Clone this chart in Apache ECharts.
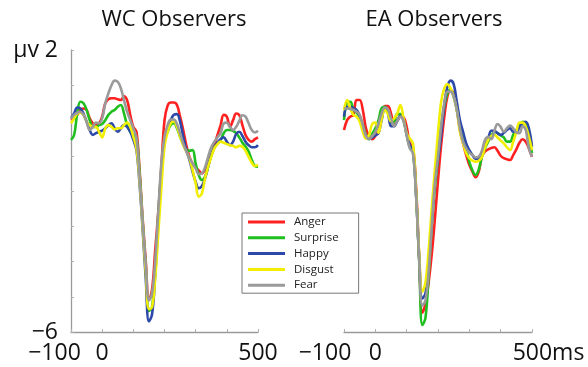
<!DOCTYPE html>
<html>
<head>
<meta charset="utf-8">
<script src="https://cdn.jsdelivr.net/npm/echarts@6/dist/echarts.min.js"></script>
<style>
html,body{margin:0;padding:0;background:#fff;}
#c{width:588px;height:367px;}
</style>
</head>
<body>
<div id="c"></div>
<script>
// time axis (ms), sampled every 10 ms
const times = [];
for (let t = -100; t <= 500; t += 10) times.push(t);

const emotions = ['Anger', 'Surprise', 'Happy', 'Disgust', 'Fear'];
const panelTitles = ['WC Observers', 'EA Observers'];
const xTickLabels = { '-100': '−100', '0': '0', '500': '500' };
const yTickLabels = { '2': 'µv 2', '-6': '−6' };

// WC observers (µV)
const wcAnger = [0.01,0.06,0.16,0.30,0.34,0.30,0.06,-0.08,-0.13,-0.08,
 0.11,0.49,0.60,0.63,0.63,0.60,0.58,0.69,0.58,0.16,
 -0.18,-0.32,-1.4,-2.8,-4.0,-5.1,-4.8,-3.7,-2.6,-1.3,
 0.0,0.42,0.51,0.51,0.44,0.11,-0.27,-0.7,-1.03,-1.22,
 -1.33,-1.42,-1.5,-1.4,-1.22,-0.98,-0.7,-0.41,-0.13,0.16,
 0.11,-0.18,0.01,0.2,0.15,-0.13,-0.41,-0.55,-0.6,-0.53,
 -0.48];
const wcSurprise = [-0.55,-0.41,0.2,0.53,0.49,0.30,0.01,-0.18,-0.18,-0.13,
 -0.1,0.01,0.16,0.25,0.30,0.39,0.44,0.2,-0.13,-0.32,
 -0.41,-0.5,-1.5,-2.9,-4.2,-5.4,-5.3,-4.2,-2.7,-1.4,
 -0.55,-0.32,-0.13,-0.08,-0.22,-0.46,-0.65,-0.82,-0.86,-0.84,
 -1.22,-1.55,-1.69,-1.6,-1.31,-0.98,-0.76,-0.65,-0.55,-0.36,
 -0.27,-0.27,-0.29,-0.36,-0.48,-0.63,-0.74,-0.88,-1.12,-1.29,
 -1.31];
const wcHappy = [0.06,0.2,0.37,0.34,0.2,-0.03,-0.27,-0.41,-0.36,-0.32,
 -0.29,-0.22,-0.13,-0.08,-0.22,-0.32,-0.22,-0.13,-0.18,-0.32,
 -0.55,-0.84,-1.8,-3.1,-4.5,-5.7,-5.5,-4.4,-2.9,-1.5,
 -0.6,-0.18,0.01,0.16,0.18,-0.03,-0.46,-0.84,-1.12,-1.45,
 -1.74,-1.92,-1.86,-1.64,-1.31,-0.98,-0.76,-0.63,-0.53,-0.48,
 -0.6,-0.7,-0.6,-0.38,-0.32,-0.44,-0.6,-0.7,-0.76,-0.76,
 -0.7];
const wcDisgust = [-0.08,0.06,0.2,0.22,0.16,-0.03,-0.13,-0.18,-0.18,-0.32,
 -0.48,-0.22,-0.13,-0.18,-0.25,-0.22,-0.22,-0.13,-0.06,-0.18,
 -0.46,-0.79,-1.7,-3.0,-4.3,-5.35,-5.3,-4.5,-3.2,-1.9,
 -0.74,-0.32,-0.08,-0.03,-0.18,-0.46,-0.7,-0.88,-1.07,-1.4,
 -1.78,-2.16,-2.07,-1.64,-1.31,-1.03,-0.79,-0.67,-0.6,-0.63,
 -0.67,-0.7,-0.72,-0.76,-0.72,-0.74,-0.86,-1.03,-1.2,-1.29,
 -1.26];
const wcFear = [0.06,0.16,0.22,0.25,0.16,-0.03,-0.27,-0.18,-0.06,-0.08,
 0.06,0.49,0.77,1.0,1.13,1.1,0.91,0.58,0.25,0.01,
 -0.22,-0.5,-1.6,-2.9,-4.1,-5.1,-4.9,-4.0,-2.6,-1.2,
 -0.46,-0.13,0.03,0.03,-0.1,-0.36,-0.65,-0.88,-1.07,-1.22,
 -1.36,-1.52,-1.5,-1.33,-1.03,-0.76,-0.6,-0.48,-0.36,-0.08,
 -0.06,-0.18,-0.27,-0.18,-0.01,0.15,0.11,-0.08,-0.27,-0.34,
 -0.29];

// EA observers (µV)
const eaAnger = [-0.27,0.01,0.11,0.16,0.58,0.58,0.3,-0.22,-0.44,-0.53,
 -0.44,-0.27,0.06,0.41,0.41,0.2,-0.13,-0.01,0.11,0.09,
 -0.18,-0.65,-0.74,-1.9,-3.9,-5.45,-5.2,-4.6,-3.8,-2.8,
 -1.7,-0.7,0.1,0.68,0.85,0.77,0.34,-0.27,-0.65,-0.98,
 -1.26,-1.45,-1.61,-1.45,-1.03,-0.88,-0.82,-0.78,-0.76,-0.86,
 -1.0,-1.07,-1.1,-1.12,-0.98,-0.82,-0.63,-0.53,-0.6,-0.79,
 -1.03];
const eaSurprise = [0.01,0.51,0.53,0.32,0.22,0.11,-0.13,-0.41,-0.53,-0.38,
 -0.22,0.01,0.35,0.39,0.25,-0.08,-0.03,0.18,0.18,0.01,
 -0.41,-0.76,-0.88,-2.1,-4.0,-5.8,-5.6,-4.4,-3.0,-1.9,
 -1.1,-0.18,0.39,0.77,0.88,0.68,0.3,-0.13,-0.41,-0.79,
 -1.17,-1.42,-1.55,-1.39,-1.03,-0.79,-0.6,-0.44,-0.32,-0.36,
 -0.42,-0.48,-0.6,-0.6,-0.41,-0.27,-0.16,-0.04,-0.1,-0.51,
 -0.93];
const eaHappy = [0.11,0.39,0.39,0.35,0.3,0.13,-0.18,-0.46,-0.52,-0.48,
 -0.42,-0.36,0.01,0.32,0.22,-0.16,-0.16,-0.01,0.13,0.01,
 -0.38,-0.7,-0.82,-2.1,-3.9,-5.05,-4.9,-4.1,-2.9,-1.7,
 -1.1,-0.41,0.44,0.96,1.13,1.03,0.53,0.01,-0.32,-0.65,
 -0.84,-0.98,-1.09,-1.07,-0.91,-0.7,-0.53,-0.29,-0.29,-0.36,
 -0.41,-0.35,-0.27,-0.22,-0.32,-0.32,-0.19,-0.08,-0.04,-0.22,
 -0.74];
const eaDisgust = [0.3,0.58,0.34,0.16,0.11,-0.03,-0.32,-0.51,-0.41,-0.1,
 -0.06,-0.35,0.03,0.3,0.18,-0.02,0.06,0.2,0.44,0.06,
 -0.36,-0.51,-0.65,-2.0,-3.8,-4.85,-4.6,-3.7,-2.5,-1.4,
 -0.36,0.53,0.91,1.03,0.91,0.68,0.3,-0.32,-0.65,-0.93,
 -1.07,-1.14,-1.17,-1.14,-1.04,-0.76,-0.55,-0.44,-0.41,-0.48,
 -0.57,-0.65,-0.76,-0.84,-0.6,-0.32,-0.06,-0.06,-0.18,-0.46,
 -0.84];
const eaFear = [0.34,0.34,0.33,0.3,0.25,0.16,-0.13,-0.44,-0.52,-0.44,
 -0.33,-0.08,0.2,0.37,0.32,0.06,-0.16,-0.01,0.11,-0.01,
 -0.41,-0.79,-0.93,-2.1,-3.9,-5.25,-5.1,-4.3,-3.0,-1.8,
 -1.03,-0.18,0.49,0.82,0.82,0.68,0.3,-0.22,-0.6,-0.79,
 -0.91,-0.98,-1.05,-1.03,-0.86,-0.55,-0.46,-0.53,-0.29,-0.1,
 -0.18,-0.32,-0.22,-0.14,-0.22,-0.34,-0.36,-0.16,-0.27,-0.79,
 -1.03];

const colors = ['#ff2020', '#1fbf1f', '#2c48a8', '#f2ee00', '#9a9a9a'];
const wcData = [wcAnger, wcSurprise, wcHappy, wcDisgust, wcFear];
const eaData = [eaAnger, eaSurprise, eaHappy, eaDisgust, eaFear];

const FONT = '"Open Sans", "DejaVu Sans", sans-serif';

function makeSeries(arrs, idx) {
  return arrs.map((arr, k) => ({
    name: emotions[k],
    type: 'line',
    xAxisIndex: idx,
    yAxisIndex: idx,
    data: times.map((t, i) => [t, arr[i]]),
    smooth: 0.4,
    showSymbol: false,
    symbol: 'none',
    lineStyle: { width: 2.6, color: colors[k] },
    itemStyle: { color: colors[k] },
    clip: false,
    silent: true,
    animation: false
  }));
}

function xAxisFor(idx) {
  return {
    type: 'value', gridIndex: idx, min: -100, max: 500, interval: 100,
    axisLine: { show: true, onZero: false, lineStyle: { color: '#9a9a9a', width: 1.3 } },
    axisTick: { show: true, inside: true, length: 3, lineStyle: { color: '#b0b0b0' } },
    splitLine: { show: false },
    axisLabel: {
      margin: 10,
      fontFamily: FONT, fontSize: 23, color: '#111',
      showMinLabel: true, showMaxLabel: true,
      formatter: function (v) {
        if (v === -100) return idx === 0 ? '{l|' + xTickLabels['-100'] + '}' : '{r|' + xTickLabels['-100'] + '}';
        if (v === 0) return xTickLabels['0'];
        if (v === 500) return idx === 0 ? xTickLabels['500'] : '{m|' + xTickLabels['500'] + 'ms}';
        return '';
      },
      rich: {
        l: { fontFamily: FONT, fontSize: 23, color: '#111', padding: [0, 33, 0, 0] },
        r: { fontFamily: FONT, fontSize: 23, color: '#111', padding: [0, 38, 0, 0] },
        m: { fontFamily: FONT, fontSize: 23, color: '#111', padding: [0, 0, 0, 33] }
      }
    }
  };
}

const chart = echarts.init(document.getElementById('c'), null, { renderer: 'canvas' });
chart.setOption({
  animation: false,
  backgroundColor: '#ffffff',
  title: [
    { text: panelTitles[0], left: 174, top: 9, textAlign: 'center', padding: 0,
      textStyle: { fontFamily: FONT, fontSize: 22, fontWeight: 'normal', color: '#111' } },
    { text: panelTitles[1], left: 434, top: 9, textAlign: 'center', padding: 0,
      textStyle: { fontFamily: FONT, fontSize: 22, fontWeight: 'normal', color: '#111' } }
  ],
  legend: {
    orient: 'vertical',
    left: 242, top: 213,
    padding: [3, 20, 2, 6],
    borderColor: '#777', borderWidth: 1,
    icon: 'rect',
    itemWidth: 37, itemHeight: 3, itemGap: 3.8,
    data: emotions,
    textStyle: { fontFamily: FONT, fontSize: 11.5, color: '#222', lineHeight: 12, padding: [0, 0, 0, 4] },
    selectedMode: false
  },
  grid: [
    { left: 71, top: 50, width: 187, height: 282 },
    { left: 344, top: 50, width: 188, height: 282 }
  ],
  xAxis: [xAxisFor(0), xAxisFor(1)],
  yAxis: [
    {
      type: 'value', gridIndex: 0, min: -6, max: 2, interval: 1,
      axisLine: { show: true, onZero: false, lineStyle: { color: '#9a9a9a', width: 1.3 } },
      axisTick: { show: true, inside: true, length: 3, lineStyle: { color: '#b0b0b0' } },
      splitLine: { show: false },
      axisLabel: {
        margin: 13, fontFamily: FONT, fontSize: 23, color: '#111',
        showMinLabel: true, showMaxLabel: true,
        formatter: function (v) { return yTickLabels[String(v)] || ''; }
      }
    },
    {
      type: 'value', gridIndex: 1, min: -6, max: 2, interval: 1, show: false
    }
  ],
  series: makeSeries(wcData, 0).concat(makeSeries(eaData, 1))
});
</script>
</body>
</html>
